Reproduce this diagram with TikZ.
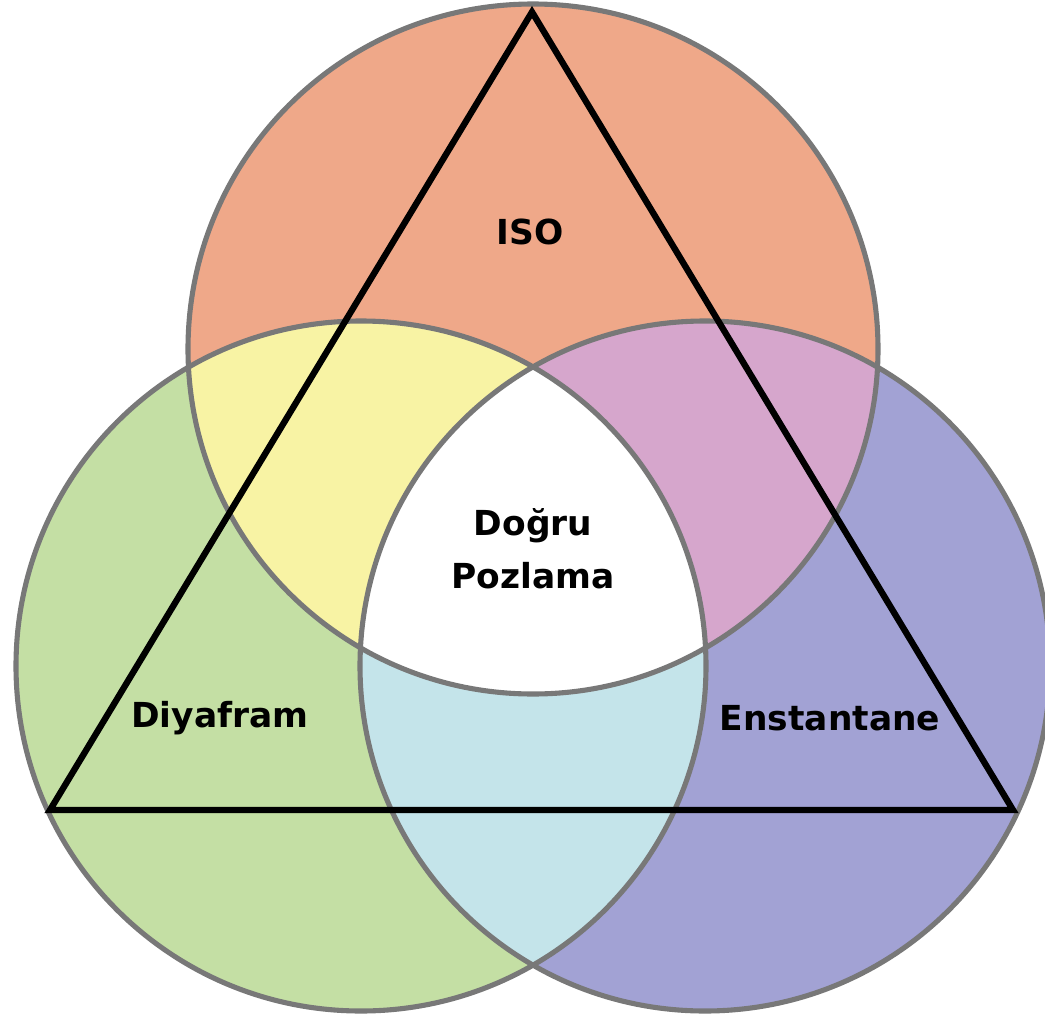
\documentclass[tikz,border=0pt]{standalone}
\usepackage{fontspec}
\newfontfamily\vennfont{DejaVu Sans}
\definecolor{isocol}{HTML}{EFA889}
\definecolor{diycol}{HTML}{C4DFA4}
\definecolor{enscol}{HTML}{A2A2D4}
\definecolor{yelcol}{HTML}{F8F3A4}
\definecolor{pinkcol}{HTML}{D6A6CC}
\definecolor{bluecol}{HTML}{C4E4EA}
\definecolor{edgecol}{HTML}{787878}
\tikzset{
  ring/.style={draw=edgecol, line width=1.45pt},
  tri/.style={draw=black, line width=1.8pt, line join=miter},
  lbl/.style={font=\vennfont\bfseries\fontsize{9.8}{15}\selectfont, align=center, inner sep=0pt}
}
\begin{document}
\begin{tikzpicture}
\useasboundingbox (0,0) rectangle (10.45,10.15);
\coordinate (iso) at (5.33,6.66);
\coordinate (diy) at (3.61,3.49);
\coordinate (ens) at (7.05,3.49);

% circles
\fill[isocol] (iso) circle (3.45);
\fill[diycol] (diy) circle (3.45);
\fill[enscol] (ens) circle (3.45);

% overlaps
\begin{scope}
\clip (iso) circle (3.45);
\fill[yelcol] (diy) circle (3.45);
\fill[pinkcol] (ens) circle (3.45);
\end{scope}
\begin{scope}
\clip (diy) circle (3.45);
\fill[bluecol] (ens) circle (3.45);
\end{scope}
\begin{scope}
\clip (iso) circle (3.45);
\clip (diy) circle (3.45);
\fill[white] (ens) circle (3.45);
\end{scope}

\draw[ring] (iso) circle (3.45);
\draw[ring] (diy) circle (3.45);
\draw[ring] (ens) circle (3.45);

% triangle
\coordinate (apex) at (5.32,10.03);
\coordinate (left) at (0.50,2.05);
\coordinate (right) at (10.13,2.05);
\draw[tri] (apex) -- (left) -- (right) -- cycle;

\node[lbl] (isolbl) at (5.30,7.83) {ISO};
\node[lbl] (poz) at (5.33,4.665) {Doğru\\Pozlama};
\node[lbl] (diylbl) at (2.20,2.97) {Diyafram};
\node[lbl] (enslbl) at (8.30,2.97) {Enstantane};
\end{tikzpicture}
\end{document}
